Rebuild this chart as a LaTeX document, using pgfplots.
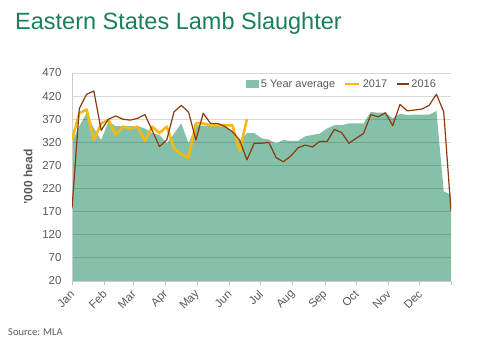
\documentclass[border=0pt]{standalone}
\usepackage{pgfplots}
\pgfplotsset{compat=1.18}
\usepackage{fontspec}
\setmainfont{Liberation Sans}
\newfontfamily\calib{Carlito}
\definecolor{titlegreen}{HTML}{1A7F5A}
\definecolor{areagreen}{HTML}{85C1A8}
\definecolor{yel}{HTML}{F4B915}
\definecolor{brn}{HTML}{8B3A10}
\definecolor{txtgray}{HTML}{595959}
\begin{document}
\begin{tikzpicture}
\path (0pt,0pt) rectangle (486pt,345pt);
\node[anchor=base west, inner sep=0, text=titlegreen, font=\fontsize{23.5}{27}\selectfont] at (15pt,315.5pt) {Eastern States Lamb Slaughter};
\node[anchor=base west, inner sep=0, text=txtgray, font=\calib\fontsize{10.5}{12}\selectfont] at (8pt,10pt) {Source: MLA};
\begin{axis}[
 set layers,
 at={(72pt,64pt)}, anchor=south west,
 scale only axis, width=379pt, height=208pt,
 xmin=0, xmax=52, ymin=20, ymax=470,
 ytick={20,70,...,470},
 xtick={0,4.43,8.43,12.86,17.14,21.57,25.86,30.29,34.71,39,43.43,47.71,52},
 xticklabels={Jan,Feb,Mar,Apr,May,Jun,Jul,Aug,Sep,Oct,Nov,Dec,{}},
 axis x line*=bottom, axis y line*=left,
 axis line style={draw=black!20, line width=0.8pt},
 ymajorgrids, grid style={draw=black, draw opacity=0.15, line width=0.8pt},
 tick align=outside,
 xtick style={draw=black!25, line width=0.8pt},
 major tick length=4pt,
 ytick style={draw=none},
 /pgf/number format/assume math mode=true,
 ticklabel style={font=\fontsize{11.5}{13}\selectfont, text=txtgray},
 xticklabel style={xshift=3pt, yshift=-5pt, rotate=45, anchor=east},
 yticklabel style={xshift=-3pt},
 ylabel={'000 head},
 ylabel shift=3pt,
 ylabel style={font=\bfseries\fontsize{12}{14}\selectfont, text=txtgray},
 legend style={draw=none, fill=none, at={(0.966,0.947)}, anchor=east, legend columns=-1, font=\fontsize{11}{13}\selectfont, text=txtgray, inner sep=0pt, /tikz/every even column/.append style={column sep=7pt}},
]
\addplot[fill=areagreen, draw=none, on layer=axis background,
 legend image code/.code={\fill[areagreen] (0pt,-4pt) rectangle (13pt,4pt);}]
 coordinates {(0,320)(1,355)(2,383)(3,350)(4,325)(5,365)(6,355)(7,355)(8,355)(9,355)(10,350)(11,340)(12,336)(13,318)(14,339)(15,361)(16,318)(17,357)(18,356)(19,356)(20,356)(21,354)(22,342)(23,322)(24,340)(25,340)(26,329)(27,326)(28,318)(29,325)(30,323)(31,323)(32,333)(33,336)(34,339)(35,350)(36,357)(37,357)(38,361)(39,361)(40,361)(41,386)(42,384)(43,384)(44,372)(45,382)(46,379)(47,380)(48,380)(49,380)(50,388)(51,214)(52,206)} \closedcycle;
\addlegendentry{5 Year average}
\addplot[yel, line width=2.6pt, line join=round,
 legend image code/.code={\draw[yel, line width=2.6pt] (0pt,0pt) -- (14pt,0pt);}]
 coordinates {(0,325)(1,383)(2,391)(3,325)(4,361)(5,368)(6,336)(7,354)(8,350)(9,354)(10,323)(11,354)(12,340)(13,354)(14,307)(15,293)(16,287)(17,361)(18,361)(19,357)(20,357)(21,357)(22,357)(23,301)(24,370)};
\addlegendentry{2017}
\addplot[brn, line width=1.2pt, line join=round,
 legend image code/.code={\draw[brn, line width=1.2pt] (0pt,0pt) -- (12pt,0pt);}]
 coordinates {(0,177)(1,393)(2,424)(3,431)(4,346)(5,370)(6,377)(7,370)(8,368)(9,372)(10,380)(11,346)(12,311)(13,325)(14,386)(15,400)(16,385)(17,325)(18,383)(19,361)(20,361)(21,354)(22,343)(23,325)(24,282)(25,318)(26,318)(27,320)(28,287)(29,278)(30,290)(31,308)(32,314)(33,310)(34,322)(35,322)(36,348)(37,341)(38,318)(39,329)(40,339)(41,380)(42,375)(43,384)(44,356)(45,402)(46,388)(47,390)(48,392)(49,400)(50,424)(51,386)(52,172)};
\addlegendentry{2016}
\end{axis}
\end{tikzpicture}
\end{document}
